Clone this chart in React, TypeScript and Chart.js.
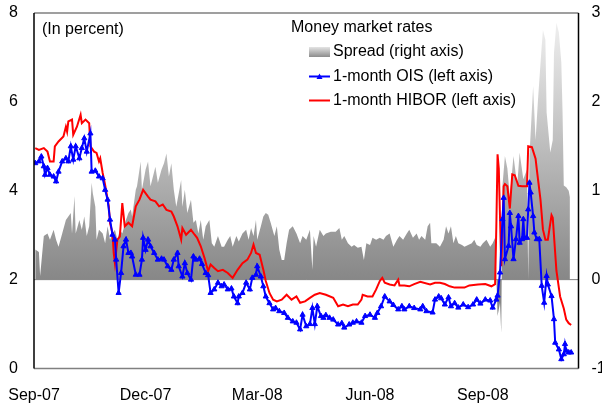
import React, { useEffect, useRef } from 'react';
import { Chart, registerables } from 'chart.js';

Chart.register(...registerables);

// x values are days counted from 1 Sep 2007
const xTickDays = [0, 91, 182, 274, 366];
const xTickLabels = ['Sep-07', 'Dec-07', 'Mar-08', 'Jun-08', 'Sep-08'];

const hiborDays = [1,4,8,11,13,16,17,20,24,26,27,28,31,32,35,38,39,42,45,46,49,51,53,54,56,58,61,62,64,65,66,68,70,72,74,77,80,83,86,89,93,95,99,102,105,108,112,114,117,120,121,124,128,131,133,136,139,142,144,147,150,154,158,162,166,170,174,177,179,181,184,187,189,192,195,198,202,206,210,214,217,221,225,229,233,238,244,248,252,256,260,264,267,268,272,276,279,282,284,286,290,294,297,298,302,306,310,315,323,327,331,335,339,343,351,355,362,368,373,376,377,378,379,381,383,384,386,388,390,392,395,398,402,403,406,409,410,413,415,417,419,422,423,426,429,432,434,436,438];
const hiborValues = [4.96,4.92,4.96,4.88,4.66,4.66,5.0,5.11,5.22,5.44,5.33,5.56,5.6,5.26,5.44,5.71,5.52,5.6,5.52,5.0,4.88,4.85,4.66,4.73,4.4,4.13,3.65,3.27,3.05,2.6,2.37,2.9,2.97,3.72,3.2,3.28,3.2,3.65,3.8,4.02,3.87,3.8,3.76,3.65,3.69,3.57,3.53,3.42,3.2,2.9,3.16,3.01,3.12,3.01,2.94,2.75,2.49,2.19,2.34,2.26,2.19,2.22,2.15,2.04,2.22,2.37,2.45,2.6,2.79,2.6,2.56,2.22,1.97,1.7,1.55,1.51,1.55,1.66,1.55,1.62,1.48,1.51,1.59,1.66,1.7,1.66,1.59,1.4,1.44,1.4,1.44,1.44,1.55,1.66,1.62,1.62,1.78,1.97,2.04,1.93,1.89,1.87,2.0,1.87,1.87,1.85,1.9,1.95,1.89,1.93,1.93,1.9,1.85,1.82,1.82,1.87,1.89,1.9,1.85,1.9,3.2,4.82,4.5,2.3,4.1,4.15,4.1,3.6,4.37,4.35,4.11,4.1,4.1,5.0,4.98,4.72,4.48,3.8,3.13,2.9,2.9,3.45,3.39,2.2,1.62,1.35,1.1,1.02,0.98];

const oisDays = [1,4,6,8,9,11,13,16,18,20,23,26,28,30,32,34,37,39,41,43,46,47,50,53,56,58,60,62,64,66,67,69,71,73,75,77,79,80,83,86,88,89,91,93,95,98,101,104,106,109,112,114,117,118,121,123,125,128,130,132,135,137,140,142,144,147,150,153,155,158,161,163,166,167,170,173,176,178,181,182,185,187,189,192,195,197,200,204,207,211,214,217,219,222,225,227,229,231,234,236,238,241,244,248,251,253,257,260,263,267,270,274,278,280,283,286,290,293,297,300,302,306,310,315,317,320,325,327,330,332,335,338,340,343,346,350,354,358,361,364,368,372,374,377,378,380,382,383,384,387,388,389,391,393,395,396,398,399,400,402,403,404,405,407,408,410,412,414,416,418,419,422,424,425,428,430,432,433,434,436,438];
const oisValues = [4.62,4.66,4.77,4.55,4.36,4.51,4.36,4.32,4.21,4.43,4.66,4.73,4.66,5.0,4.7,5.0,4.73,4.96,5.18,4.88,5.29,4.43,4.45,4.32,4.28,4.02,3.8,3.35,3.01,2.9,2.45,1.7,2.15,2.75,2.9,2.6,2.6,2.52,2.11,2.11,2.45,2.94,2.67,2.9,2.75,2.6,2.45,2.47,2.45,2.3,2.22,2.45,2.6,2.3,2.07,2.37,2.15,2.0,2.52,2.45,2.47,2.35,2.15,2.1,1.7,1.78,1.93,1.85,1.89,1.78,1.8,1.62,1.47,1.62,1.7,1.93,1.78,2.04,2.11,2.3,2.07,1.85,1.62,1.47,1.33,1.36,1.29,1.25,1.14,1.06,1.03,0.88,1.21,0.95,1.0,1.36,1.0,1.4,1.18,1.14,1.2,1.14,1.1,0.99,1.02,0.92,0.99,1.03,1.06,1.03,1.18,1.21,1.14,1.25,1.4,1.62,1.51,1.43,1.33,1.4,1.33,1.4,1.36,1.33,1.4,1.29,1.26,1.55,1.62,1.58,1.44,1.6,1.4,1.47,1.37,1.44,1.38,1.44,1.55,1.46,1.55,1.53,1.37,1.55,1.64,2.16,3.36,3.84,2.46,2.76,3.5,3.2,2.46,2.91,3.43,2.83,2.91,3.36,2.94,2.94,3.58,4.18,3.96,3.43,3.06,2.91,2.91,1.86,1.48,2.08,1.89,1.63,1.11,0.58,0.43,0.21,0.32,0.55,0.4,0.36,0.36];

const spreadDays = [1,4,5,8,11,13,16,18,20,23,26,28,30,31,33,34,37,39,41,43,45,47,48,50,51,53,56,58,60,62,64,66,68,70,72,75,77,79,80,83,84,87,88,91,93,95,97,99,101,104,106,108,110,112,114,116,118,120,121,123,125,128,130,132,134,136,138,140,143,145,147,150,153,155,158,160,162,165,167,170,173,175,177,179,181,182,185,187,189,191,193,196,198,200,202,204,206,208,211,214,217,219,222,225,227,228,230,233,236,238,242,246,249,251,253,256,259,261,264,267,269,271,274,276,279,282,285,287,290,293,296,298,301,304,306,309,312,314,316,319,321,323,324,326,328,331,334,336,338,340,342,344,346,349,351,354,357,359,361,364,366,369,372,374,376,377,378,380,381,382,384,386,388,391,394,396,399,402,403,404,407,409,411,414,415,417,418,421,423,424,426,428,430,431,432,434,436,437];
const spreadValues = [0.34,0.31,0.04,0.49,0.52,0.45,0.56,0.45,0.37,0.52,0.67,0.71,0.75,0.52,0.94,0.52,0.67,0.56,0.71,0.49,0.6,1.09,0.97,0.82,0.45,0.56,0.52,0.41,0.6,0.45,0.52,0.56,0.45,0.56,0.52,0.67,0.75,0.79,0.71,1.01,1.05,1.33,1.01,1.24,1.33,1.05,1.16,1.27,1.09,1.24,1.31,1.42,1.16,1.31,1.01,0.82,0.97,1.12,0.82,1.01,0.75,0.9,0.64,0.67,0.52,0.67,0.45,0.6,0.67,0.41,0.37,0.49,0.37,0.37,0.45,0.49,0.37,0.49,0.43,0.52,0.56,0.45,0.58,0.49,0.67,0.45,0.6,0.71,0.75,0.73,0.64,0.49,0.6,0.34,0.22,0.22,0.41,0.56,0.6,0.52,0.41,0.49,0.45,0.56,0.11,0.49,0.37,0.56,0.49,0.52,0.54,0.54,0.58,0.45,0.49,0.41,0.37,0.39,0.36,0.37,0.22,0.41,0.39,0.47,0.45,0.47,0.45,0.49,0.52,0.37,0.45,0.49,0.45,0.52,0.56,0.47,0.52,0.45,0.49,0.45,0.6,0.64,0.41,0.41,0.41,0.37,0.45,0.6,0.52,0.6,0.41,0.49,0.41,0.39,0.37,0.39,0.41,0.45,0.39,0.37,0.41,0.45,0.37,0.41,0.47,0.04,-0.41,-0.26,-0.6,1.06,1.39,1.25,0.93,1.39,1.06,1.43,1.13,1.24,0.0,1.39,2.18,1.57,2.03,2.63,2.81,2.7,1.88,1.43,1.57,2.55,2.89,2.78,2.44,1.88,1.06,1.04,1.0,0.93];

const FONT = '"Liberation Sans", Arial, Helvetica, sans-serif';

const toPoints = (xs: number[], ys: number[]) => xs.map((x, i) => ({ x, y: ys[i] }));

const zeroPadding = (scale: any) => {
  scale.paddingLeft = 0;
  scale.paddingRight = 0;
  scale.paddingTop = 0;
  scale.paddingBottom = 0;
};

const decorPlugin = {
  id: 'decor',
  beforeDatasetsDraw(chart: any) {
    const { ctx, chartArea, scales } = chart;
    const y0 = scales.y1.getPixelForValue(0);
    ctx.save();
    ctx.strokeStyle = '#808080';
    ctx.lineWidth = 1;
    ctx.beginPath();
    ctx.moveTo(chartArea.left, y0);
    ctx.lineTo(chartArea.right, y0);
    ctx.stroke();
    ctx.restore();
  },
  afterDraw(chart: any) {
    const { ctx, chartArea } = chart;
    const { left, right, top, bottom } = chartArea;
    ctx.save();
    ctx.lineWidth = 1.5;
    ctx.strokeStyle = '#808080';
    ctx.beginPath();
    ctx.moveTo(left, top); ctx.lineTo(right, top);
    ctx.moveTo(left, bottom); ctx.lineTo(right, bottom);
    ctx.stroke();
    ctx.strokeStyle = '#000000';
    ctx.beginPath();
    ctx.moveTo(left, top); ctx.lineTo(left, bottom);
    ctx.moveTo(right, top); ctx.lineTo(right, bottom);
    ctx.stroke();

    ctx.font = `16px ${FONT}`;
    ctx.fillStyle = '#000';
    ctx.textBaseline = 'middle';
    ctx.textAlign = 'left';
    ctx.fillText('(In percent)', 42, 30);
    ctx.fillText('Money market rates', 291, 28);

    const g = ctx.createLinearGradient(0, 47, 0, 57);
    g.addColorStop(0, '#e4e4e4');
    g.addColorStop(1, '#8c8c8c');
    ctx.fillStyle = g;
    ctx.fillRect(309, 47, 21, 10);

    ctx.strokeStyle = '#0000ff';
    ctx.lineWidth = 2;
    ctx.beginPath();
    ctx.moveTo(309, 76.5); ctx.lineTo(330, 76.5);
    ctx.stroke();
    ctx.fillStyle = '#0000ff';
    ctx.beginPath();
    ctx.moveTo(319.5, 73.5); ctx.lineTo(322.5, 79); ctx.lineTo(316.5, 79);
    ctx.closePath();
    ctx.fill();

    ctx.strokeStyle = '#ff0000';
    ctx.beginPath();
    ctx.moveTo(309, 100.5); ctx.lineTo(330, 100.5);
    ctx.stroke();

    ctx.fillStyle = '#000';
    ctx.fillText('Spread (right axis)', 333, 52);
    ctx.fillText('1-month OIS (left axis)', 333, 76.5);
    ctx.fillText('1-month HIBOR (left axis)', 333, 100.5);
    ctx.restore();
  },
};

export default function App() {
  const canvasRef = useRef<HTMLCanvasElement | null>(null);

  useEffect(() => {
    const canvas = canvasRef.current;
    if (!canvas) return;
    const chart = new Chart(canvas, {
      type: 'line',
      data: {
        datasets: [
          {
            label: '1-month OIS (left axis)',
            data: toPoints(oisDays, oisValues),
            yAxisID: 'y',
            borderColor: '#0000ff',
            backgroundColor: '#0000ff',
            borderWidth: 2,
            pointStyle: 'triangle',
            pointRadius: 3,
            pointBackgroundColor: '#0000ff',
            pointBorderColor: '#0000ff',
            pointBorderWidth: 1,
            fill: false,
            tension: 0,
          },
          {
            label: '1-month HIBOR (left axis)',
            data: toPoints(hiborDays, hiborValues),
            yAxisID: 'y',
            borderColor: '#ff0000',
            backgroundColor: '#ff0000',
            borderWidth: 2,
            pointRadius: 0,
            fill: false,
            tension: 0,
          },
          {
            label: 'Spread (right axis)',
            data: toPoints(spreadDays, spreadValues),
            yAxisID: 'y1',
            borderColor: 'rgba(0,0,0,0)',
            borderWidth: 0,
            pointRadius: 0,
            tension: 0,
            fill: 'origin',
            backgroundColor: (context: any) => {
              const c = context.chart;
              const { ctx, chartArea, scales } = c;
              if (!chartArea || !scales.y1) return '#999999';
              const y0 = scales.y1.getPixelForValue(0);
              const g = ctx.createLinearGradient(0, y0, 0, chartArea.top);
              g.addColorStop(0, '#878787');
              g.addColorStop(1, '#f3f3f3');
              return g;
            },
          },
        ],
      },
      options: {
        animation: false,
        responsive: true,
        maintainAspectRatio: false,
        devicePixelRatio: 1,
        layout: { padding: { top: 13, left: 0, right: 0, bottom: 0 } },
        plugins: {
          legend: { display: false },
          tooltip: { enabled: false },
        },
        scales: {
          x: {
            type: 'linear',
            min: 0,
            max: 444,
            grid: { display: false, drawTicks: false },
            border: { display: false },
            afterBuildTicks: (scale: any) => {
              scale.ticks = xTickDays.map((v) => ({ value: v }));
            },
            afterFit: (scale: any) => {
              scale.height = 38.5;
              zeroPadding(scale);
            },
            ticks: {
              autoSkip: false,
              maxRotation: 0,
              padding: 17,
              color: '#000',
              font: { family: FONT, size: 16 },
              callback: (value: any) => {
                const i = xTickDays.indexOf(Number(value));
                return i >= 0 ? xTickLabels[i] : '';
              },
            },
          },
          y: {
            position: 'left',
            min: 0,
            max: 8,
            grid: { display: false, drawTicks: false },
            border: { display: false },
            afterFit: (scale: any) => {
              scale.width = 34;
              zeroPadding(scale);
            },
            ticks: {
              stepSize: 2,
              padding: 16,
              color: '#000',
              font: { family: FONT, size: 16 },
            },
          },
          y1: {
            position: 'right',
            min: -1,
            max: 3,
            grid: { display: false, drawTicks: false },
            border: { display: false },
            afterFit: (scale: any) => {
              scale.width = 23.5;
              zeroPadding(scale);
            },
            ticks: {
              stepSize: 1,
              padding: 13,
              color: '#000',
              font: { family: FONT, size: 16 },
            },
          },
        },
      },
      plugins: [decorPlugin],
    });
    return () => chart.destroy();
  }, []);

  return (
    <div style={{ position: 'fixed', left: 0, top: 0, width: 602, height: 407 }}>
      <canvas ref={canvasRef} />
    </div>
  );
}
